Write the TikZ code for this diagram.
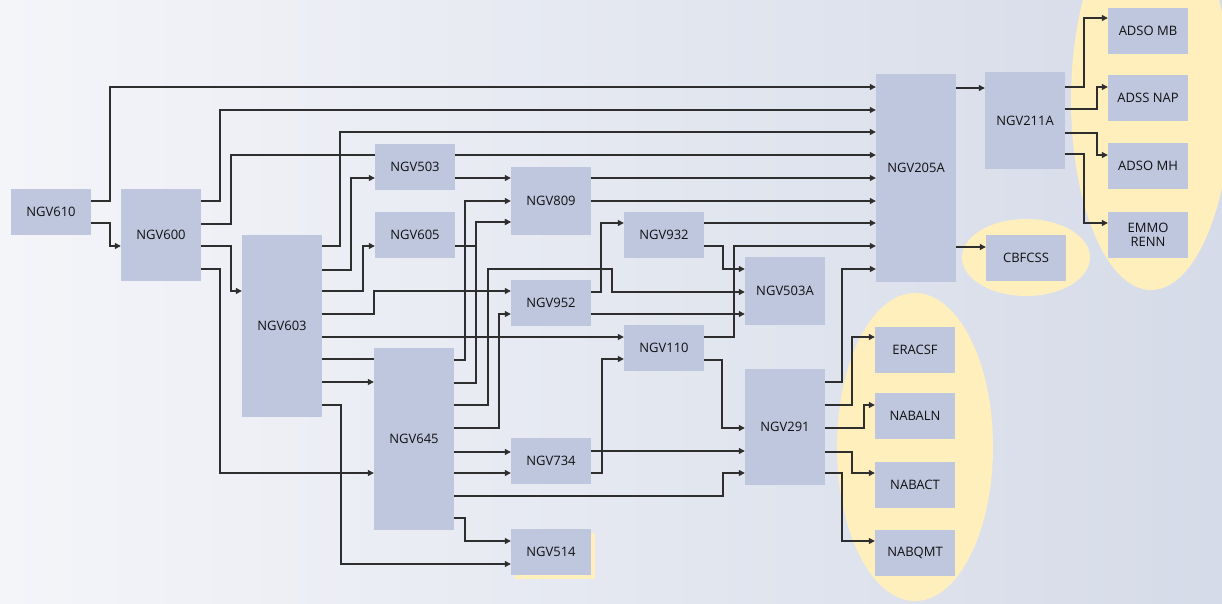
\documentclass[tikz,border=0pt]{standalone}
\usepackage{fontspec}
\setmainfont{Open Sans}
\usetikzlibrary{arrows.meta}
\definecolor{bgl}{HTML}{F4F5F9}
\definecolor{bgr}{HTML}{D5DBE8}
\definecolor{boxc}{HTML}{BFC7DF}
\definecolor{hl}{HTML}{FFEFBD}
\definecolor{linec}{HTML}{2E2E2E}
\definecolor{txt}{HTML}{111111}
\pgfdeclarelayer{back}
\pgfdeclarelayer{lines}
\pgfsetlayers{back,lines,main}
\tikzset{
  box/.style={fill=boxc, inner sep=0pt, minimum width=80pt, minimum height=46pt, align=center,
    text=txt, font=\fontsize{13}{14}\selectfont},
  conn/.style={draw=linec, line width=1.15pt},
  arr/.style={conn, -{Triangle[length=6pt,width=6pt]}},
  hlfill/.style={fill=hl, draw=none}
}
\begin{document}
\begin{tikzpicture}[x=1pt,y=-1pt]
\useasboundingbox (0,0) rectangle (1222,603);
\begin{pgfonlayer}{back}
\shade[left color=bgl, right color=bgr] (0,0) rectangle (1222,603);
\fill[hl] (1151,100) ellipse [x radius=80, y radius=190];
\fill[hl] (1026,257.5) ellipse [x radius=64, y radius=38.5];
\fill[hl] (915,447) ellipse [x radius=78, y radius=154];
\fill[hl] (515,533) rectangle (595,579);
\end{pgfonlayer}

% boxes
\node[box] (ngv610) at (51,212) {NGV610};
\node[box, minimum height=92pt] (ngv600) at (161,235) {NGV600};
\node[box, minimum height=182pt] (ngv603) at (282,326) {NGV603};
\node[box] (ngv503) at (415,167) {NGV503};
\node[box] (ngv605) at (415,235) {NGV605};
\node[box, minimum height=68pt] (ngv809) at (551,201) {NGV809};
\node[box] (ngv952) at (551,303) {NGV952};
\node[box] (ngv932) at (664,235) {NGV932};
\node[box] (ngv110) at (664,348) {NGV110};
\node[box, minimum height=68pt] (ngv503a) at (785,291) {NGV503A};
\node[box, minimum height=208pt, label={[box, fill=none, minimum height=0pt, yshift=10pt]center:NGV205A}] (ngv205a) at (916,178) {};
\node[box, minimum height=97pt] (ngv211a) at (1025,120.5) {NGV211A};
\node[box] (adsomb) at (1148,31) {ADSO MB};
\node[box] (adssnap) at (1148,98) {ADSS NAP};
\node[box] (adsomh) at (1148,166) {ADSO MH};
\node[box] (emmo) at (1148,235) {EMMO\\RENN};
\node[box] (cbfcss) at (1026,258) {CBFCSS};
\node[box, minimum height=182pt] (ngv645) at (414,439) {NGV645};
\node[box] (ngv734) at (551,461) {NGV734};
\node[box] (ngv514) at (551,552) {NGV514};
\node[box, minimum height=116pt] (ngv291) at (785,427) {NGV291};
\node[box] (eracsf) at (915,350) {ERACSF};
\node[box] (nabaln) at (915,416) {NABALN};
\node[box] (nabact) at (915,485) {NABACT};
\node[box] (nabqmt) at (915,553) {NABQMT};

\begin{pgfonlayer}{lines}
% NGV610
\draw[arr] (ngv610.east |- 0,201) -| (110,87) -- (ngv205a.west |- 0,87);
\draw[arr] (ngv610.east |- 0,223) -| (110,246) -- (ngv600.west |- 0,246);
% NGV600
\draw[arr] (ngv600.east |- 0,201) -| (220,110) -- (ngv205a.west |- 0,110);
\draw[arr] (ngv600.east |- 0,224) -| (231,155) -- (ngv205a.west |- 0,155);
\draw[arr] (ngv600.east |- 0,246) -| (231,291) -- (ngv603.west |- 0,291);
\draw[arr] (ngv600.east |- 0,269) -| (220,473) -- (ngv645.west |- 0,473);
% NGV603
\draw[arr] (ngv603.east |- 0,246) -| (340,132) -- (ngv205a.west |- 0,132);
\draw[arr] (ngv603.east |- 0,270) -| (351,178) -- (ngv503.west |- 0,178);
\draw[arr] (ngv603.east |- 0,291) -| (363,246) -- (ngv605.west |- 0,246);
\draw[arr] (ngv603.east |- 0,314) -| (374,291) -- (ngv952.west |- 0,291);
\draw[arr] (ngv603.east |- 0,337) -- (ngv110.west |- 0,337);
\draw[conn] (ngv603.east |- 0,359) -- (ngv645.west |- 0,359);
\draw[arr] (ngv603.east |- 0,382) -- (ngv645.west |- 0,382);
\draw[arr] (ngv603.east |- 0,405) -| (341,564) -- (ngv514.west |- 0,564);
% NGV503, NGV809, NGV605
\draw[arr] (ngv503.east |- 0,178) -- (ngv809.west |- 0,178);
\draw[arr] (ngv809.east |- 0,178) -- (ngv205a.west |- 0,178);
\draw[arr] (ngv809.east |- 0,201) -- (ngv205a.west |- 0,201);
\draw[arr] (ngv605.east |- 0,246) -| (476,222) -- (ngv809.west |- 0,222);
% NGV645
\draw[arr] (ngv645.east |- 0,360) -| (465,201) -- (ngv809.west |- 0,201);
\draw[arr] (ngv645.east |- 0,383) -| (476,222) -- (ngv809.west |- 0,222);
\draw[arr] (ngv645.east |- 0,405) -| (488,269) -| (612,292) -- (ngv503a.west |- 0,292);
\draw[arr] (ngv645.east |- 0,428) -| (499,314) -- (ngv952.west |- 0,314);
\draw[arr] (ngv645.east |- 0,452) -- (ngv734.west |- 0,452);
\draw[arr] (ngv645.east |- 0,473) -- (ngv734.west |- 0,473);
\draw[arr] (ngv645.east |- 0,496) -| (723,473) -- (ngv291.west |- 0,473);
\draw[arr] (ngv645.east |- 0,518) -| (465,541) -- (ngv514.west |- 0,541);
% NGV952, NGV932
\draw[arr] (ngv952.east |- 0,292) -| (601,223) -- (ngv932.west |- 0,223);
\draw[arr] (ngv952.east |- 0,314) -- (ngv503a.west |- 0,314);
\draw[arr] (ngv932.east |- 0,223) -- (ngv205a.west |- 0,223);
\draw[arr] (ngv932.east |- 0,246) -| (723,269) -- (ngv503a.west |- 0,269);
% NGV110, NGV734
\draw[arr] (ngv110.east |- 0,337) -| (734,246) -- (ngv205a.west |- 0,246);
\draw[arr] (ngv110.east |- 0,360) -| (722,428) -- (ngv291.west |- 0,428);
\draw[arr] (ngv734.east |- 0,451) -- (ngv291.west |- 0,451);
\draw[arr] (ngv734.east |- 0,473) -| (602,359) -- (ngv110.west |- 0,359);
% NGV291
\draw[arr] (ngv291.east |- 0,382) -| (842,269) -- (ngv205a.west |- 0,269);
\draw[arr] (ngv291.east |- 0,405) -| (852,337) -- (eracsf.west |- 0,337);
\draw[arr] (ngv291.east |- 0,428) -| (864,405) -- (nabaln.west |- 0,405);
\draw[arr] (ngv291.east |- 0,452) -| (852,473) -- (nabact.west |- 0,473);
\draw[arr] (ngv291.east |- 0,473) -| (842,541) -- (nabqmt.west |- 0,541);
% NGV205A
\draw[arr] (ngv205a.east |- 0,88) -- (ngv211a.west |- 0,88);
\draw[arr] (ngv205a.east |- 0,247) -- (cbfcss.west |- 0,247);
% NGV211A
\draw[arr] (ngv211a.east |- 0,87) -| (1084,18) -- (adsomb.west |- 0,18);
\draw[arr] (ngv211a.east |- 0,109) -| (1097,87) -- (adssnap.west |- 0,87);
\draw[arr] (ngv211a.east |- 0,133) -| (1097,155) -- (adsomh.west |- 0,155);
\draw[arr] (ngv211a.east |- 0,154) -| (1084,223) -- (emmo.west |- 0,223);
\end{pgfonlayer}
\end{tikzpicture}
\end{document}
